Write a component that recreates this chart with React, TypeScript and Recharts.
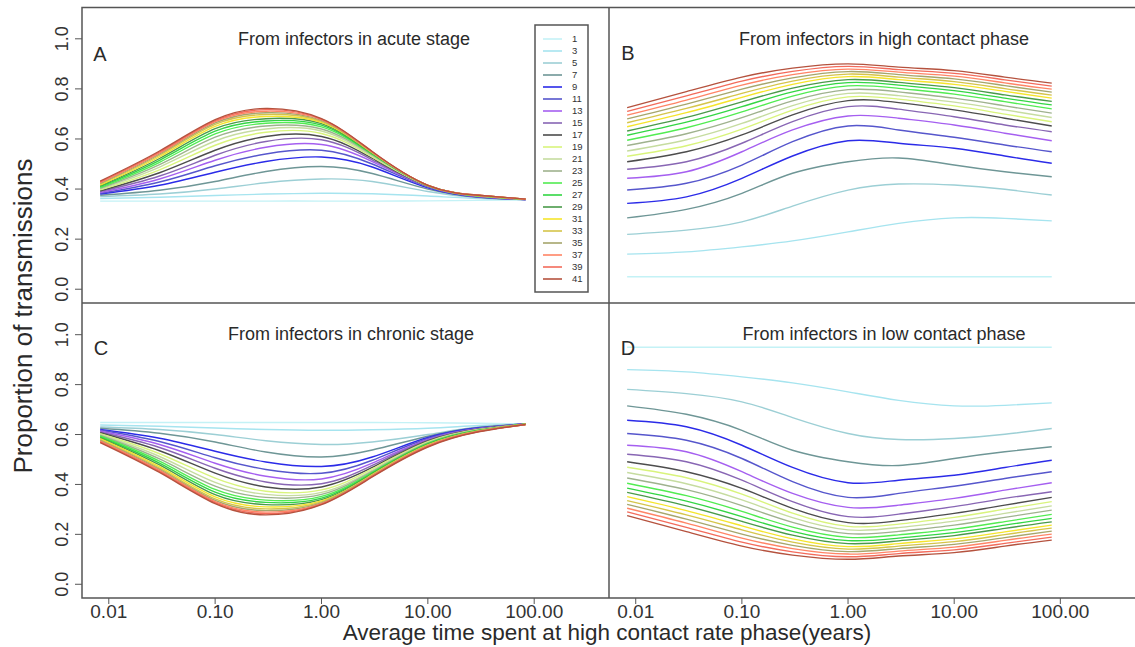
import React from 'react';
import { LineChart, Line, XAxis, YAxis } from 'recharts';

// x: average time spent at high contact rate phase (years)
const X_YEARS = [0.0083, 0.03, 0.1, 0.3, 1, 3, 10, 30, 83];
const X_TICKS = [0.01, 0.1, 1, 10, 100];
const Y_TICKS = [0, 0.2, 0.4, 0.6, 0.8, 1.0];
const SERIES_LABELS = ['1', '3', '5', '7', '9', '11', '13', '15', '17', '19', '21', '23', '25', '27', '29', '31', '33', '35', '37', '39', '41'];
const SERIES_COLORS = [
  '#c4f2f6', '#a6e4ef', '#9ccfd5', '#6e9696', '#2b2be8', '#5656cc', '#a55ff0',
  '#8866b4', '#4d4d4d', '#d9f47c', '#c6dca0', '#9fb28e', '#52ec52', '#33d644',
  '#4a9a4a', '#f5e52c', '#d5c54a', '#a6a66c', '#ff8566', '#f36b5b', '#b5523e',
];
const PANEL_TITLES = ['From infectors in acute stage', 'From infectors in high contact phase', 'From infectors in chronic stage', 'From infectors in low contact phase'];
const PANEL_LETTERS = ['A', 'B', 'C', 'D'];
const X_TITLE = 'Average time spent at high contact rate phase(years)';
const Y_TITLE = 'Proportion of transmissions';

// Panel A: from infectors in acute stage (one row per series 1..41)
const ACUTE = [
  [0.352, 0.352, 0.352, 0.352, 0.352, 0.352, 0.353, 0.355, 0.357],
  [0.362, 0.367, 0.374, 0.380, 0.383, 0.381, 0.372, 0.362, 0.358],
  [0.370, 0.380, 0.400, 0.425, 0.440, 0.430, 0.390, 0.365, 0.358],
  [0.375, 0.395, 0.430, 0.470, 0.490, 0.462, 0.400, 0.367, 0.358],
  [0.380, 0.415, 0.467, 0.510, 0.528, 0.488, 0.405, 0.368, 0.358],
  [0.383, 0.428, 0.493, 0.540, 0.555, 0.500, 0.408, 0.369, 0.358],
  [0.386, 0.440, 0.515, 0.567, 0.578, 0.510, 0.410, 0.370, 0.358],
  [0.390, 0.452, 0.535, 0.590, 0.597, 0.517, 0.411, 0.371, 0.358],
  [0.393, 0.465, 0.555, 0.610, 0.610, 0.523, 0.412, 0.372, 0.359],
  [0.397, 0.477, 0.575, 0.627, 0.622, 0.528, 0.413, 0.372, 0.359],
  [0.400, 0.488, 0.592, 0.640, 0.632, 0.532, 0.413, 0.373, 0.359],
  [0.403, 0.498, 0.607, 0.652, 0.640, 0.536, 0.414, 0.373, 0.359],
  [0.406, 0.507, 0.620, 0.663, 0.648, 0.539, 0.414, 0.373, 0.359],
  [0.410, 0.515, 0.631, 0.672, 0.655, 0.541, 0.414, 0.374, 0.359],
  [0.413, 0.522, 0.641, 0.681, 0.661, 0.543, 0.415, 0.374, 0.359],
  [0.416, 0.529, 0.650, 0.690, 0.666, 0.545, 0.415, 0.374, 0.359],
  [0.420, 0.535, 0.658, 0.698, 0.670, 0.546, 0.415, 0.374, 0.360],
  [0.423, 0.540, 0.664, 0.705, 0.674, 0.547, 0.415, 0.375, 0.360],
  [0.426, 0.544, 0.669, 0.711, 0.677, 0.548, 0.415, 0.375, 0.360],
  [0.429, 0.548, 0.673, 0.717, 0.679, 0.549, 0.415, 0.375, 0.360],
  [0.432, 0.552, 0.677, 0.722, 0.681, 0.550, 0.415, 0.375, 0.360],
];

// Panel B: from infectors in high contact phase
const HIGH_CONTACT = [
  [0.050, 0.050, 0.050, 0.050, 0.050, 0.050, 0.050, 0.050, 0.050],
  [0.140, 0.149, 0.169, 0.193, 0.229, 0.263, 0.285, 0.283, 0.273],
  [0.219, 0.236, 0.269, 0.332, 0.396, 0.420, 0.416, 0.399, 0.376],
  [0.285, 0.319, 0.383, 0.463, 0.509, 0.524, 0.496, 0.469, 0.449],
  [0.343, 0.369, 0.443, 0.532, 0.593, 0.583, 0.563, 0.532, 0.503],
  [0.396, 0.423, 0.496, 0.589, 0.652, 0.636, 0.607, 0.576, 0.549],
  [0.443, 0.469, 0.549, 0.636, 0.692, 0.683, 0.656, 0.623, 0.593],
  [0.479, 0.509, 0.583, 0.669, 0.729, 0.719, 0.689, 0.656, 0.629],
  [0.509, 0.549, 0.616, 0.696, 0.753, 0.745, 0.716, 0.683, 0.652],
  [0.531, 0.573, 0.639, 0.715, 0.768, 0.759, 0.732, 0.699, 0.669],
  [0.552, 0.597, 0.662, 0.733, 0.782, 0.773, 0.747, 0.716, 0.686],
  [0.574, 0.621, 0.685, 0.752, 0.797, 0.788, 0.763, 0.732, 0.703],
  [0.595, 0.645, 0.708, 0.771, 0.812, 0.802, 0.779, 0.749, 0.720],
  [0.615, 0.667, 0.729, 0.788, 0.825, 0.815, 0.793, 0.763, 0.736],
  [0.632, 0.686, 0.748, 0.803, 0.837, 0.826, 0.805, 0.776, 0.750],
  [0.649, 0.705, 0.766, 0.818, 0.849, 0.837, 0.818, 0.790, 0.763],
  [0.665, 0.722, 0.782, 0.831, 0.859, 0.847, 0.829, 0.801, 0.775],
  [0.680, 0.739, 0.799, 0.844, 0.869, 0.857, 0.840, 0.813, 0.787],
  [0.695, 0.755, 0.815, 0.857, 0.879, 0.867, 0.851, 0.824, 0.799],
  [0.710, 0.772, 0.831, 0.870, 0.890, 0.877, 0.862, 0.836, 0.811],
  [0.725, 0.789, 0.847, 0.883, 0.900, 0.887, 0.873, 0.847, 0.823],
];

// Panel C: from infectors in chronic stage
const CHRONIC = [
  [0.648, 0.648, 0.648, 0.648, 0.648, 0.648, 0.647, 0.645, 0.643],
  [0.638, 0.633, 0.626, 0.620, 0.617, 0.619, 0.625, 0.636, 0.642],
  [0.630, 0.620, 0.600, 0.575, 0.560, 0.570, 0.600, 0.630, 0.642],
  [0.625, 0.605, 0.570, 0.530, 0.510, 0.538, 0.593, 0.628, 0.642],
  [0.620, 0.585, 0.533, 0.490, 0.472, 0.510, 0.588, 0.627, 0.642],
  [0.617, 0.572, 0.507, 0.460, 0.445, 0.497, 0.584, 0.625, 0.642],
  [0.614, 0.560, 0.485, 0.433, 0.422, 0.485, 0.580, 0.623, 0.642],
  [0.610, 0.548, 0.465, 0.410, 0.403, 0.476, 0.577, 0.622, 0.642],
  [0.607, 0.535, 0.445, 0.390, 0.390, 0.468, 0.574, 0.621, 0.641],
  [0.603, 0.523, 0.425, 0.373, 0.378, 0.462, 0.571, 0.620, 0.641],
  [0.600, 0.512, 0.408, 0.360, 0.368, 0.456, 0.568, 0.619, 0.641],
  [0.597, 0.502, 0.393, 0.348, 0.360, 0.452, 0.566, 0.618, 0.641],
  [0.594, 0.493, 0.380, 0.337, 0.352, 0.448, 0.564, 0.617, 0.641],
  [0.590, 0.485, 0.369, 0.328, 0.345, 0.445, 0.562, 0.616, 0.641],
  [0.587, 0.478, 0.359, 0.319, 0.339, 0.442, 0.560, 0.615, 0.641],
  [0.584, 0.471, 0.350, 0.310, 0.334, 0.439, 0.558, 0.614, 0.641],
  [0.580, 0.465, 0.342, 0.302, 0.330, 0.437, 0.556, 0.614, 0.640],
  [0.577, 0.460, 0.336, 0.295, 0.326, 0.435, 0.555, 0.613, 0.640],
  [0.574, 0.456, 0.331, 0.289, 0.323, 0.433, 0.554, 0.612, 0.640],
  [0.571, 0.452, 0.327, 0.283, 0.321, 0.432, 0.552, 0.612, 0.640],
  [0.568, 0.448, 0.323, 0.278, 0.319, 0.430, 0.550, 0.611, 0.640],
];

// Panel D: from infectors in low contact phase
const LOW_CONTACT = [
  [0.950, 0.950, 0.950, 0.950, 0.950, 0.950, 0.950, 0.950, 0.950],
  [0.860, 0.851, 0.831, 0.807, 0.771, 0.737, 0.715, 0.717, 0.727],
  [0.781, 0.764, 0.731, 0.668, 0.604, 0.580, 0.584, 0.601, 0.624],
  [0.715, 0.681, 0.617, 0.537, 0.491, 0.476, 0.504, 0.531, 0.551],
  [0.657, 0.631, 0.557, 0.468, 0.407, 0.417, 0.437, 0.468, 0.497],
  [0.604, 0.577, 0.504, 0.411, 0.348, 0.364, 0.393, 0.424, 0.451],
  [0.557, 0.531, 0.451, 0.364, 0.308, 0.317, 0.344, 0.377, 0.407],
  [0.521, 0.491, 0.417, 0.331, 0.271, 0.281, 0.311, 0.344, 0.371],
  [0.491, 0.451, 0.384, 0.304, 0.247, 0.255, 0.284, 0.317, 0.348],
  [0.469, 0.427, 0.361, 0.285, 0.232, 0.241, 0.268, 0.301, 0.331],
  [0.448, 0.403, 0.338, 0.267, 0.218, 0.227, 0.253, 0.284, 0.314],
  [0.426, 0.379, 0.315, 0.248, 0.203, 0.212, 0.237, 0.268, 0.297],
  [0.405, 0.355, 0.292, 0.229, 0.188, 0.198, 0.221, 0.251, 0.280],
  [0.385, 0.333, 0.271, 0.212, 0.175, 0.185, 0.207, 0.237, 0.264],
  [0.368, 0.314, 0.252, 0.197, 0.163, 0.174, 0.195, 0.224, 0.250],
  [0.351, 0.295, 0.234, 0.182, 0.151, 0.163, 0.182, 0.210, 0.237],
  [0.335, 0.278, 0.218, 0.169, 0.141, 0.153, 0.171, 0.199, 0.225],
  [0.320, 0.261, 0.201, 0.156, 0.131, 0.143, 0.160, 0.187, 0.213],
  [0.305, 0.245, 0.185, 0.143, 0.121, 0.133, 0.149, 0.176, 0.201],
  [0.290, 0.228, 0.169, 0.130, 0.110, 0.123, 0.138, 0.164, 0.189],
  [0.275, 0.211, 0.153, 0.117, 0.100, 0.113, 0.127, 0.153, 0.177],
];

const X_DOMAIN: [number, number] = [0.0056, 505];
const Y_DOMAIN: [number, number] = [-0.055, 1.127];
const FONT = '"Liberation Sans", Arial, Helvetica, sans-serif';
const FRAME = '#555';
const TEXT = '#2a2a2a';

function buildRows(values: number[][]) {
  return X_YEARS.map((x, i) => {
    const row: Record<string, number> = { x };
    values.forEach((s, k) => {
      row['s' + SERIES_LABELS[k]] = s[i];
    });
    return row;
  });
}

const YTick = (props: any) => {
  const { y, payload } = props;
  const bx = 68.5;
  return (
    <text x={bx} y={y} transform={`rotate(-90 ${bx} ${y})`} textAnchor="middle" fontSize={18} fontFamily={FONT} fill="#333">
      {Number(payload.value).toFixed(1)}
    </text>
  );
};

const XTick = (props: any) => {
  const { x, payload } = props;
  // chart-local coordinates: plot bottom at 295, label baseline 20px below
  return (
    <text x={x} y={315} textAnchor="middle" fontSize={19} fontFamily={FONT} fill="#333">
      {Number(payload.value).toFixed(2)}
    </text>
  );
};

type PanelProps = {
  left: number;
  top: number;
  width: number;
  height: number;
  values: number[][];
  showX: boolean;
  showY: boolean;
};

function Panel({ left, top, width, height, values, showX, showY }: PanelProps) {
  const rows = buildRows(values);
  return (
    <div style={{ position: 'absolute', left, top, width, height }}>
      <LineChart width={width} height={height} data={rows} margin={{ top: 0, right: 0, bottom: 0, left: 0 }}>
        <XAxis
          dataKey="x"
          type="number"
          scale="log"
          domain={X_DOMAIN}
          ticks={X_TICKS}
          allowDataOverflow
          hide={!showX}
          height={49}
          axisLine={false}
          tickSize={6}
          tickLine={{ stroke: FRAME }}
          tick={<XTick />}
          interval={0}
        />
        <YAxis
          type="number"
          domain={Y_DOMAIN}
          ticks={Y_TICKS}
          allowDataOverflow
          hide={!showY}
          width={82}
          axisLine={false}
          tickSize={7}
          tickLine={{ stroke: FRAME }}
          tick={<YTick />}
          interval={0}
        />
        {SERIES_LABELS.map((lab, k) => (
          <Line
            key={lab}
            dataKey={'s' + lab}
            type="natural"
            stroke={SERIES_COLORS[k]}
            strokeWidth={1.4}
            dot={false}
            activeDot={false}
            isAnimationActive={false}
          />
        ))}
      </LineChart>
    </div>
  );
}

export default function App() {
  const legendTop = 39;
  const legendStep = 12.0;
  return (
    <div style={{ position: 'absolute', left: 0, top: 0, width: 1135, height: 647, background: '#fff', overflow: 'hidden' }}>
      <Panel left={0} top={7} width={609} height={296} values={ACUTE} showX={false} showY={true} />
      <Panel left={609} top={7} width={526} height={296} values={HIGH_CONTACT} showX={false} showY={false} />
      <Panel left={0} top={303} width={609} height={344} values={CHRONIC} showX={true} showY={true} />
      <Panel left={609} top={303} width={526} height={344} values={LOW_CONTACT} showX={true} showY={false} />
      <svg width={1135} height={647} style={{ position: 'absolute', left: 0, top: 0, pointerEvents: 'none' }}>
        {/* frames */}
        <rect x={82} y={7.5} width={1060} height={590.5} fill="none" stroke={FRAME} strokeWidth={1.5} />
        <line x1={609} y1={7.5} x2={609} y2={598} stroke={FRAME} strokeWidth={1.5} />
        <line x1={82} y1={303} x2={1140} y2={303} stroke={FRAME} strokeWidth={1.5} />
        {/* titles */}
        <text x={354} y={44.5} textAnchor="middle" fontSize={18} fontFamily={FONT} fill={TEXT}>{PANEL_TITLES[0]}</text>
        <text x={884} y={44.5} textAnchor="middle" fontSize={18} fontFamily={FONT} fill={TEXT}>{PANEL_TITLES[1]}</text>
        <text x={351} y={339.5} textAnchor="middle" fontSize={18} fontFamily={FONT} fill={TEXT}>{PANEL_TITLES[2]}</text>
        <text x={884} y={339.5} textAnchor="middle" fontSize={18} fontFamily={FONT} fill={TEXT}>{PANEL_TITLES[3]}</text>
        {/* panel letters */}
        <text x={100} y={60.5} textAnchor="middle" fontSize={20} fontFamily={FONT} fill={TEXT}>{PANEL_LETTERS[0]}</text>
        <text x={628} y={59.5} textAnchor="middle" fontSize={20} fontFamily={FONT} fill={TEXT}>{PANEL_LETTERS[1]}</text>
        <text x={101} y={355} textAnchor="middle" fontSize={20} fontFamily={FONT} fill={TEXT}>{PANEL_LETTERS[2]}</text>
        <text x={628} y={355} textAnchor="middle" fontSize={20} fontFamily={FONT} fill={TEXT}>{PANEL_LETTERS[3]}</text>
        {/* axis titles */}
        <text x={607} y={640} textAnchor="middle" fontSize={22.5} fontFamily={FONT} fill={TEXT}>{X_TITLE}</text>
        <text x={32} y={316} transform="rotate(-90 32 316)" textAnchor="middle" fontSize={26} fontFamily={FONT} fill={TEXT}>{Y_TITLE}</text>
        {/* legend */}
        <rect x={535} y={25} width={53} height={267} fill="#fff" stroke={FRAME} strokeWidth={1.5} />
        {SERIES_LABELS.map((lab, k) => (
          <g key={lab}>
            <line x1={543} x2={562} y1={legendTop + k * legendStep} y2={legendTop + k * legendStep} stroke={SERIES_COLORS[k]} strokeWidth={1.6} />
            <text x={572} y={legendTop + k * legendStep + 3.3} fontSize={9.5} fontFamily={FONT} fill="#333">{lab}</text>
          </g>
        ))}
      </svg>
    </div>
  );
}
